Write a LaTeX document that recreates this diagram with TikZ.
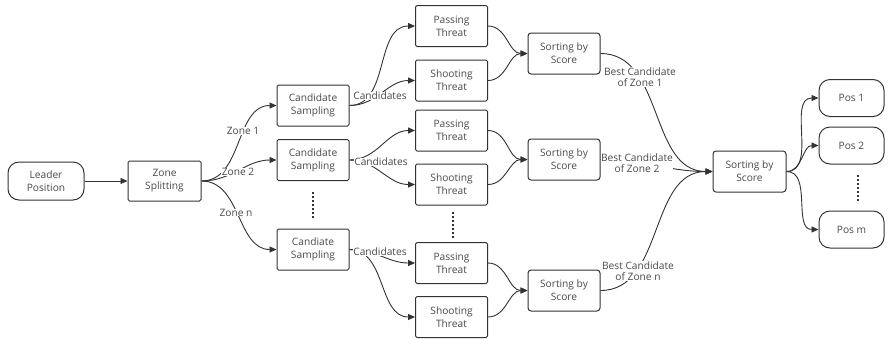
\documentclass[tikz,border=0pt]{standalone}
\usepackage{fontspec}
\setmainfont{Open Sans}
\usetikzlibrary{arrows.meta}
\definecolor{ln}{HTML}{333333}
\definecolor{tx}{HTML}{4A4A4A}
\begin{document}
\begin{tikzpicture}[x=1pt,y=-1pt,
 box/.style={draw=ln, line width=1pt, rounded corners=1.5pt, minimum width=72pt, minimum height=41pt, inner sep=0pt, align=center, text=tx, font=\fontsize{10.2}{13}\selectfont},
 rbox/.style={box, rounded corners=11pt},
 sbox/.style={box, rounded corners=3pt},
 arr/.style={draw=ln, line width=0.9pt, -{Triangle[length=7pt,width=6pt]}},
 lab/.style={fill=white, inner sep=0.3pt, text=tx, font=\fontsize{10.2}{11.5}\selectfont, align=center},
 dotline/.style={draw=ln, line width=2pt, dash pattern=on 1.6pt off 2.4pt}
]
\useasboundingbox (0,0) rectangle (888,338);
\fill[white] (0,0) rectangle (888,338);

\node[rbox, minimum width=76pt, minimum height=38pt] (lead) at (46,181) {Leader\\Position};
\node[box, minimum width=73pt, minimum height=40pt] (zone) at (164.5,181) {Zone\\Splitting};

\node[box] (cs1) at (313,105.5) {Candidate\\Sampling};
\node[box] (cs2) at (313,160) {Candidate\\Sampling};
\node[box] (cs3) at (313,249.5) {Candiate\\Sampling};

\node[box] (pt1) at (451.5,26) {Passing\\Threat};
\node[box] (st1) at (451.5,80.5) {Shooting\\Threat};
\node[box] (pt2) at (451.5,130.5) {Passing\\Threat};
\node[box] (st2) at (451.5,184.5) {Shooting\\Threat};
\node[box] (pt3) at (451.5,263) {Passing\\Threat};
\node[box] (st3) at (451.5,317) {Shooting\\Threat};

\node[sbox] (so1) at (564,53.5) {Sorting by\\Score};
\node[sbox] (so2) at (564,159.5) {Sorting by\\Score};
\node[sbox] (so3) at (564,290.5) {Sorting by\\Score};

\node[sbox, minimum width=73pt] (fin) at (749.5,171.5) {Sorting by\\Score};

\node[rbox, minimum width=65pt, minimum height=37pt] (p1) at (851.5,98) {Pos 1};
\node[rbox, minimum width=65pt, minimum height=37pt] (p2) at (851.5,145.5) {Pos 2};
\node[rbox, minimum width=65pt, minimum height=37pt] (pm) at (851.5,229.5) {Pos m};

% dotted ellipses
\coordinate (d1a) at (312.5,192); \coordinate (d1b) at (312.5,219);
\coordinate (d2a) at (453,212); \coordinate (d2b) at (453,239);
\coordinate (d3a) at (858,175); \coordinate (d3b) at (858,203);
\draw[dotline] (d1a) -- (d1b);
\draw[dotline] (d2a) -- (d2b);
\draw[dotline] (d3a) -- (d3b);

% connectors
\draw[arr] (lead.east) -- (zone.west);
\draw[arr] (zone.east) to[out=0,in=180] (cs1.west);
\draw[arr] (zone.east) to[out=0,in=180] (cs2.west);
\draw[arr] (zone.east) to[out=0,in=180] (cs3.west);

\foreach \c/\p/\s in {cs1/pt1/st1, cs2/pt2/st2, cs3/pt3/st3}{
  \draw[arr] (\c.east) to[out=0,in=180] (\p.west);
  \draw[arr] (\c.east) to[out=0,in=180] (\s.west);
}
\foreach \p/\s/\o in {pt1/st1/so1, pt2/st2/so2, pt3/st3/so3}{
  \draw[arr] (\p.east) to[out=0,in=180] (\o.west);
  \draw[arr] (\s.east) to[out=0,in=180] (\o.west);
}
\draw[arr] (so1.east) to[out=0,in=180] (fin.west);
\draw[arr] (so2.east) to[out=0,in=180] (fin.west);
\draw[arr] (so3.east) to[out=0,in=180] (fin.west);

\draw[arr] (fin.east) to[out=0,in=180] (p1.west);
\draw[arr] (fin.east) to[out=0,in=180] (p2.west);
\draw[arr] (fin.east) to[out=0,in=180] (pm.west);

% labels
\node[lab] (z1) at (243,131) {Zone 1};
\node[lab] (z2) at (238,172) {Zone 2};
\node[lab] (zn) at (236,212.5) {Zone n};
\node[lab] (c1) at (380,96) {Candidates};
\node[lab] (c2) at (381,162) {Candidates};
\node[lab] (c3) at (380,252) {Candidates};
\node[lab] (b1) at (640,77) {Best Candidate\\of Zone 1};
\node[lab] (b2) at (637,163) {Best Candidate\\of Zone 2};
\node[lab] (bn) at (638,271) {Best Candidate\\of Zone n};
\end{tikzpicture}
\end{document}
